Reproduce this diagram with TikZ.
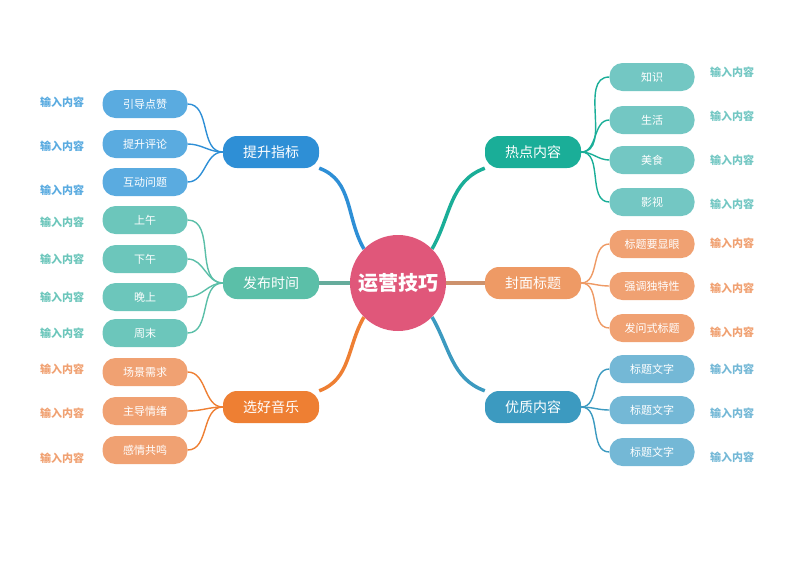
\documentclass[tikz,border=0pt]{standalone}
\usepackage{fontspec}
\setmainfont{Noto Sans CJK SC}
\usetikzlibrary{positioning}
\definecolor{cRoot}{HTML}{E0577A}
\definecolor{cBlue}{HTML}{2E8FD6}\definecolor{cBlueL}{HTML}{5AABE0}
\definecolor{cTeal}{HTML}{5BBFA8}\definecolor{cTealL}{HTML}{6CC6BB}
\definecolor{cOrng}{HTML}{EE7F33}\definecolor{cOrngL}{HTML}{F0A172}
\definecolor{cGrn}{HTML}{1AAE98}\definecolor{cGrnL}{HTML}{73C7C3}
\definecolor{cPeach}{HTML}{EE9A65}\definecolor{cPeachL}{HTML}{F0A172}
\definecolor{cSea}{HTML}{3C9AC0}\definecolor{cSeaL}{HTML}{74B8D6}
\begin{document}
\begin{tikzpicture}[x=1pt,y=-1pt]
    \tikzset{root/.style={circle, fill=cRoot, text=white, minimum size=96pt, font=\fontsize{20}{24}\selectfont\bfseries}}
    \tikzset{topic/.style={rounded corners=14pt, fill=#1, text=white, minimum width=96pt, minimum height=32pt, font=\fontsize{14}{16}\selectfont}}
    \tikzset{leaf/.style={rounded corners=13pt, fill=#1, text=white, minimum width=85pt, minimum height=28pt, font=\fontsize{11}{13}\selectfont}}
    \tikzset{note/.style={text=#1, font=\fontsize{11}{13}\selectfont\bfseries}}
    \tikzset{trunk/.style={draw=#1, line width=3.5pt}}
    \tikzset{twig/.style={draw=#1, line width=1.4pt}}
    \useasboundingbox (0,0) rectangle (800,566);

    % trunks
    \node[root] (root) at (398, 283) {运营技巧};
    \node[topic=cBlue]  (t1) at (271, 152) {提升指标};
    \node[topic=cTeal]  (t2) at (271, 283) {发布时间};
    \node[topic=cOrng]  (t3) at (271, 407) {选好音乐};
    \node[topic=cGrn]   (t4) at (533, 152) {热点内容};
    \node[topic=cPeach] (t5) at (533, 283) {封面标题};
    \node[topic=cSea]   (t6) at (533, 407) {优质内容};

    \draw[trunk=cBlue]  (root.north west) to[out=120, in=-20] (t1.south east);
    \draw[trunk=cTeal!70!gray]  (root.west) -- (t2.east);
    \draw[trunk=cOrng]  (root.south west) to[out=240, in=20] (t3.north east);
    \draw[trunk=cGrn]   (root.north east) to[out=60, in=200] (t4.south west);
    \draw[trunk=cPeach!70!gray] (root.east) -- (t5.west);
    \draw[trunk=cSea]   (root.south east) to[out=-60, in=160] (t6.north west);

    % left leaves
    \foreach \y/\txt/\ny [count=\i] in {104/引导点赞/102, 144/提升评论/146, 182/互动问题/190}{
        \node[leaf=cBlueL] (a\i) at (145, \y) {\txt};
        \node[note=cBlueL] (na\i) at (62, \ny) {输入内容};
        \draw[twig=cBlue] (a\i.east) to[out=0, in=180] (t1.west);
    }
    \foreach \y/\txt/\ny [count=\i] in {220/上午/222, 259/下午/259, 297/晚上/297, 333/周末/333}{
        \node[leaf=cTealL] (b\i) at (145, \y) {\txt};
        \node[note=cTealL] (nb\i) at (62, \ny) {输入内容};
        \draw[twig=cTeal] (b\i.east) to[out=0, in=180] (t2.west);
    }
    \foreach \y/\txt/\ny [count=\i] in {372/场景需求/369, 411/主导情绪/413, 450/感情共鸣/458}{
        \node[leaf=cOrngL] (c\i) at (145, \y) {\txt};
        \node[note=cOrngL] (nc\i) at (62, \ny) {输入内容};
        \draw[twig=cOrng] (c\i.east) to[out=0, in=180] (t3.west);
    }

    % right leaves
    \foreach \y/\txt/\ny [count=\i] in {77/知识/72, 120/生活/116, 160/美食/160, 202/影视/204}{
        \node[leaf=cGrnL] (d\i) at (652, \y) {\txt};
        \node[note=cGrnL] (nd\i) at (732, \ny) {输入内容};
        \draw[twig=cGrn] (t4.east) to[out=0, in=180] (d\i.west);
    }
    \foreach \y/\txt/\ny [count=\i] in {244/标题要显眼/243, 286/强调独特性/288, 328/发问式标题/332}{
        \node[leaf=cPeachL] (e\i) at (652, \y) {\txt};
        \node[note=cPeachL] (ne\i) at (732, \ny) {输入内容};
        \draw[twig=cPeach] (t5.east) to[out=0, in=180] (e\i.west);
    }
    \foreach \y/\txt/\ny [count=\i] in {369/标题文字/369, 410/标题文字/413, 452/标题文字/457}{
        \node[leaf=cSeaL] (f\i) at (652, \y) {\txt};
        \node[note=cSeaL] (nf\i) at (732, \ny) {输入内容};
        \draw[twig=cSea] (t6.east) to[out=0, in=180] (f\i.west);
    }
\end{tikzpicture}
\end{document}
